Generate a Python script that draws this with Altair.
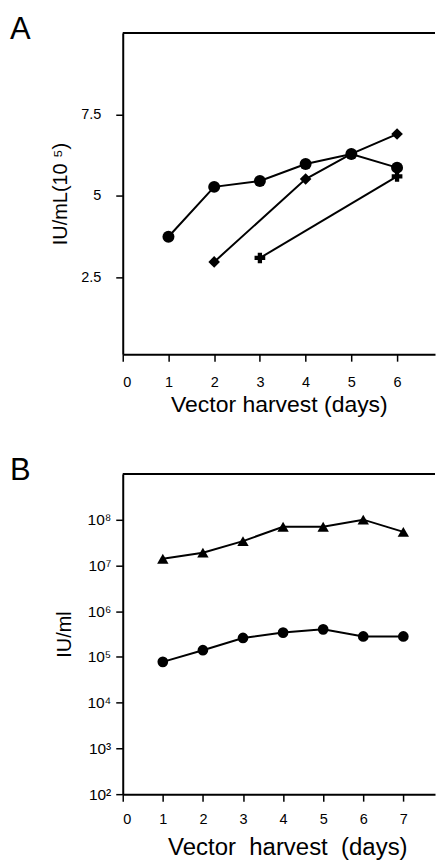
import altair as alt
import pandas as pd

# ---------------- data ----------------
# Panel A
days_a_circle = [1, 2, 3, 4, 5, 6]
iu_a_circle = [3.75, 5.28, 5.46, 5.98, 6.29, 5.87]
days_a_diamond = [2, 4, 5, 6]
iu_a_diamond = [2.98, 5.52, 6.29, 6.90]
days_a_cross = [3, 6]
iu_a_cross = [3.10, 5.60]
x_ticks_a = [0, 1, 2, 3, 4, 5, 6]
y_ticks_a = [2.5, 5, 7.5]
x_domain_a = [0, 6.83]
y_domain_a = [0.15, 10]

# Panel B
days_b = [1, 2, 3, 4, 5, 6, 7]
iu_b_triangle = [1.4e7, 1.9e7, 3.4e7, 7.0e7, 7.0e7, 1.0e8, 5.4e7]
iu_b_circle = [7.8e4, 1.4e5, 2.6e5, 3.4e5, 4.0e5, 2.8e5, 2.8e5]
x_ticks_b = [0, 1, 2, 3, 4, 5, 6, 7]
y_ticks_b = [1e2, 1e3, 1e4, 1e5, 1e6, 1e7, 1e8]
x_domain_b = [0, 7.79]
y_domain_b = [1e2, 1e9]

FONT = "Liberation Sans"


def series(days, vals):
    return pd.DataFrame({"day": days, "iu": vals})


def line_layer(df, x, y, shape, size):
    return alt.Chart(df).mark_line(
        color="black", strokeWidth=2,
        point=alt.OverlayMarkDef(shape=shape, size=size, filled=True,
                                 color="black", opacity=1),
    ).encode(x=x, y=y)


def top_border(xdom, ytop):
    return alt.Chart(pd.DataFrame({"k": [0]})).mark_rule(
        color="black", strokeWidth=2
    ).encode(
        x=alt.XDatum(xdom[0]), x2=alt.X2Datum(xdom[1]), y=alt.YDatum(ytop)
    )


def letter_layer(letter):
    return alt.Chart(pd.DataFrame({"label": [letter]})).mark_text(
        font=FONT, fontSize=31, align="left", baseline="top", color="black"
    ).encode(x=alt.value(-113), y=alt.value(-18), text="label:N")


axis_common = dict(
    grid=False, domain=True, domainColor="black", domainWidth=2,
    tickColor="black", tickWidth=1.5, tickSize=7,
    labelColor="black", labelFont=FONT,
    titleColor="black", titleFont=FONT, titleFontWeight="normal",
)

# ---------------- panel A ----------------
xa = alt.X("day:Q",
           scale=alt.Scale(domain=x_domain_a, nice=False),
           axis=alt.Axis(values=x_ticks_a, title="Vector harvest (days)",
                         titleFontSize=23, labelFontSize=14.5,
                         labelPadding=14, titlePadding=5,
                         format="d", **axis_common))
ya = alt.Y("iu:Q",
           scale=alt.Scale(domain=y_domain_a, nice=False, zero=False),
           axis=alt.Axis(values=y_ticks_a, title="IU/mL(10 \u2075)",
                         labelExpr="toString(datum.value)",
                         labelFontSize=14.5,
                         titleFontSize=20, labelPadding=15, titlePadding=10,
                         **axis_common))

panel_a = alt.layer(
    top_border(x_domain_a, y_domain_a[1]),
    line_layer(series(days_a_circle, iu_a_circle), xa, ya, "circle", 144),
    line_layer(series(days_a_diamond, iu_a_diamond), xa, ya, "diamond", 135),
    line_layer(series(days_a_cross, iu_a_cross), xa, ya, "cross", 115),
    letter_layer("A"),
).properties(width=313, height=322)

# ---------------- panel B ----------------
sup = "['\u2070','\u00b9','\u00b2','\u00b3','\u2074','\u2075','\u2076','\u2077','\u2078','\u2079']"
xb = alt.X("day:Q",
           scale=alt.Scale(domain=x_domain_b, nice=False),
           axis=alt.Axis(values=x_ticks_b, title="Vector\u00a0 harvest\u00a0 (days)",
                         titleFontSize=24, labelFontSize=14.5, titleX=165,
                         labelPadding=11, titlePadding=10,
                         format="d", **axis_common))
yb = alt.Y("iu:Q",
           scale=alt.Scale(type="log", domain=y_domain_b, nice=False),
           axis=alt.Axis(values=y_ticks_b, title="IU/ml",
                         labelExpr="'10' + " + sup + "[round(log(datum.value) / LN10)]",
                         labelFontSize=15.5,
                         titleFontSize=20, labelPadding=5, titlePadding=12,
                         **axis_common))

panel_b = alt.layer(
    top_border(x_domain_b, y_domain_b[1]),
    line_layer(series(days_b, iu_b_triangle), xb, yb, "triangle-up", 130),
    line_layer(series(days_b, iu_b_circle), xb, yb, "circle", 115),
    letter_layer("B"),
).properties(width=313, height=321)

chart = alt.vconcat(panel_a, panel_b, spacing=38).properties(
    padding={"left": 2, "top": 5, "right": 0, "bottom": 0}
).configure(
    font=FONT,
    view=alt.ViewConfig(stroke="transparent", strokeWidth=0),
)

chart.save("out.html", embed_options={"renderer": "svg", "actions": False})
